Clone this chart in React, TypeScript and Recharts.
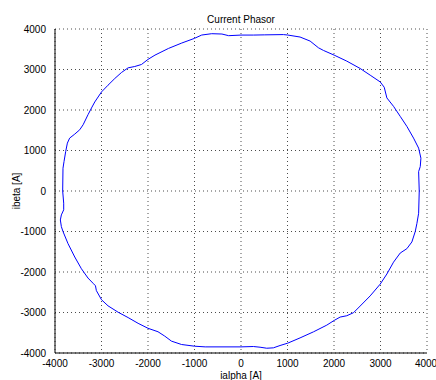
import React from "react";
import { LineChart, Line, XAxis, YAxis, CartesianGrid } from "recharts";

// current phasor trace (clockwise from top)
const ialpha = [
  0, 266, 500, 912, 1005, 1270, 1486, 1665, 1773, 2003, 2275, 2563, 2778, 2993, 3080, 3137, 3280, 3424, 3567, 3711, 3820, 3869, 3855, 3820, 3833,
  3820, 3783, 3747, 3675, 3567, 3424, 3280, 3137, 2993, 2778, 2563, 2420, 2275, 2132, 2003, 1845, 1558, 1270, 1005, 840, 696, 553, 410, 266, 0,
  -770, -1000, -1280, -1495, -1640, -1785, -2000, -2213, -2428, -2643, -2860, -3000, -3110, -3130, -3180, -3290, -3432, -3575, -3720, -3828, -3863, -3885, -3863, -3813, -3813, -3835,
  -3828, -3806, -3770, -3734, -3685, -3575, -3468, -3395, -3290, -3215, -3145, -3000, -2860, -2715, -2570, -2428, -2285, -2140, -2000, -1850, -1560, -1275, -1000, -845, -630, -410, -266, 0,
];
const ibeta = [
  3850, 3850, 3855, 3862, 3851, 3802, 3702, 3537, 3471, 3355, 3207, 3025, 2860, 2694, 2562, 2298, 2091, 1843, 1595, 1306, 1058, 810, 603, 479, 0,
  -550, -800, -1000, -1258, -1424, -1532, -1757, -2050, -2300, -2590, -2840, -3005, -3080, -3113, -3196, -3312, -3478, -3627, -3757, -3815, -3873, -3882, -3857, -3840, -3849,
  -3849, -3832, -3790, -3707, -3583, -3475, -3390, -3267, -3125, -2993, -2835, -2685, -2460, -2340, -2280, -2150, -1920, -1630, -1300, -1000, -880, -715, -590, -465, -300, 0,
  562, 727, 975, 1182, 1306, 1405, 1512, 1636, 1884, 2050, 2198, 2446, 2612, 2777, 2926, 3041, 3074, 3124, 3250, 3355, 3520, 3653, 3769, 3851, 3884, 3876, 3835, 3850,
];
const ticks = [-4000, -3000, -2000, -1000, 0, 1000, 2000, 3000, 4000];

const data = ialpha.map((x, i) => ({ x, y: ibeta[i] }));

const font = "'Liberation Sans', Arial, sans-serif";
const tickStyle = { fontFamily: font, fontSize: 10, fill: "#000" };

export default function App() {
  return (
    <div style={{ position: "absolute", left: 0, top: 0, width: 436, height: 380, background: "#fff" }}>
      <div
        style={{
          position: "absolute",
          top: 14,
          left: 55,
          width: 372,
          textAlign: "center",
          fontFamily: font,
          fontSize: 10,
          color: "#000",
        }}
      >
        Current Phasor
      </div>
      <LineChart width={436} height={380} data={data} margin={{ top: 29, right: 9, bottom: 0, left: 0 }}>
        <CartesianGrid xAxisId="b" yAxisId="l" stroke="#000" strokeDasharray="1 3" strokeOpacity={0.7} />
        <XAxis
          xAxisId="b"
          type="number"
          dataKey="x"
          domain={[-4000, 4000]}
          ticks={ticks}
          tick={tickStyle}
          tickLine={false}
          tickMargin={1}
          axisLine={{ stroke: "#000" }}
          height={27}
          label={{ value: "ialpha [A]", position: "insideBottom", offset: 1, style: tickStyle }}
        />
        <XAxis xAxisId="t" type="number" orientation="top" domain={[-4000, 4000]} ticks={ticks} tick={false} tickLine={false} height={0} axisLine={{ stroke: "#000" }} />
        <YAxis
          yAxisId="l"
          type="number"
          dataKey="y"
          domain={[-4000, 4000]}
          ticks={ticks}
          tick={tickStyle}
          tickLine={false}
          tickMargin={3}
          axisLine={{ stroke: "#000" }}
          width={55}
          label={{ value: "ibeta [A]", angle: -90, position: "insideLeft", offset: 16, style: { ...tickStyle, textAnchor: "middle" } }}
        />
        <YAxis yAxisId="r" type="number" orientation="right" domain={[-4000, 4000]} ticks={ticks} tick={false} tickLine={false} width={0} axisLine={{ stroke: "#000" }} />
        <Line
          xAxisId="b"
          yAxisId="l"
          type="linear"
          dataKey="y"
          stroke="#0000ff"
          strokeWidth={1}
          dot={false}
          isAnimationActive={false}
        />
      </LineChart>
    </div>
  );
}
